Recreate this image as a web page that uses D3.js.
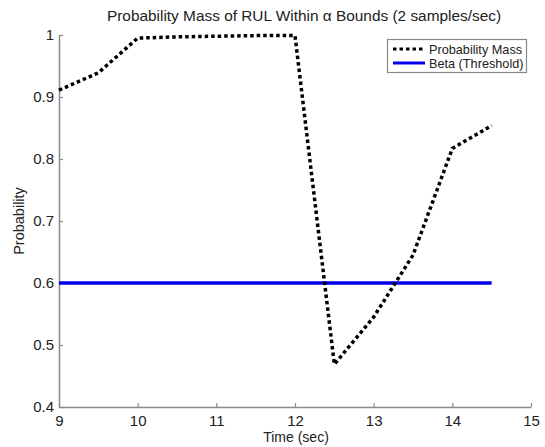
<!DOCTYPE html>
<html><head><meta charset="utf-8">
<script src="https://cdn.jsdelivr.net/npm/d3@7"></script>
<style>body{margin:0;background:#fff;}svg{display:block;font-family:Arial,"Liberation Sans",sans-serif;}</style>
</head><body>
<svg id="c" width="545" height="447"></svg>
<script>
const times = [9, 9.5, 10, 10.5, 11, 11.5, 12, 12.5, 13, 13.5, 14, 14.5];
const probMass = [0.911, 0.939, 0.995, 0.997, 0.998, 0.999, 0.999, 0.469, 0.545, 0.645, 0.817, 0.854];
const betaTimes = [9, 14.5];
const betaValues = [0.6, 0.6];
const xTicks = [9, 10, 11, 12, 13, 14, 15];
const yTicks = [0.4, 0.5, 0.6, 0.7, 0.8, 0.9, 1];
const seriesNames = ["Probability Mass", "Beta (Threshold)"];

const svg = d3.select("#c");
const x = d3.scaleLinear().domain([9, 15]).range([59, 531]);
const y = d3.scaleLinear().domain([0.4, 1]).range([407, 35]);

const axisColor = "#8a8a8a";
const gx = svg.append("g").attr("transform", `translate(0,${y(0.4)})`)
  .call(d3.axisBottom(x).tickValues(xTicks).tickFormat(d3.format("d")).tickSizeInner(-4).tickSizeOuter(0).tickPadding(8));
const gy = svg.append("g").attr("transform", `translate(${x(9)},0)`)
  .call(d3.axisLeft(y).tickValues(yTicks).tickFormat(d => d === 1 ? "1" : d3.format(".1f")(d)).tickSizeInner(-4).tickSizeOuter(0).tickPadding(5));
[gx, gy].forEach(g => {
  g.select(".domain").attr("stroke", axisColor).attr("stroke-width", 1.5);
  g.selectAll(".tick line").attr("stroke", axisColor).attr("stroke-width", 1.2);
  g.selectAll(".tick text").attr("fill", "#222").style("font-size", "15px").style("font-family", "Arial, 'Liberation Sans', sans-serif");
});

const line = d3.line().x(d => x(d[0])).y(d => y(d[1]));
svg.append("path").datum(betaTimes.map((t, i) => [t, betaValues[i]]))
  .attr("d", line).attr("fill", "none").attr("stroke", "#0000ee").attr("stroke-width", 3.5);
svg.append("path").datum(times.map((t, i) => [t, probMass[i]]))
  .attr("d", line).attr("fill", "none").attr("stroke", "#000").attr("stroke-width", 3.5)
  .attr("stroke-dasharray", "3.5,3");

svg.append("text").attr("x", 304).attr("y", 21).attr("text-anchor", "middle")
  .style("font-size", "15.4px").attr("fill", "#222")
  .text("Probability Mass of RUL Within α Bounds (2 samples/sec)");
svg.append("text").attr("x", 296).attr("y", 442).attr("text-anchor", "middle")
  .style("font-size", "14px").attr("fill", "#222").text("Time (sec)");
svg.append("text").attr("transform", "translate(24,221) rotate(-90)").attr("text-anchor", "middle")
  .style("font-size", "14.5px").attr("fill", "#222").text("Probability");

// legend
const lg = svg.append("g");
lg.append("rect").attr("x", 387.5).attr("y", 39.5).attr("width", 139).attr("height", 33)
  .attr("fill", "#fff").attr("stroke", "#888").attr("stroke-width", 1.2);
const styles = [{stroke: "#000", dash: "3.5,3"}, {stroke: "#0000ee", dash: null}];
seriesNames.forEach((n, i) => {
  const yy = 49 + i * 14;
  lg.append("line").attr("x1", 393).attr("x2", 425).attr("y1", yy).attr("y2", yy)
    .attr("stroke", styles[i].stroke).attr("stroke-width", 3).attr("stroke-dasharray", styles[i].dash);
  lg.append("text").attr("x", 429).attr("y", yy + 4.5).style("font-size", "12.7px").attr("fill", "#222").text(n);
});
</script>
</body></html>
